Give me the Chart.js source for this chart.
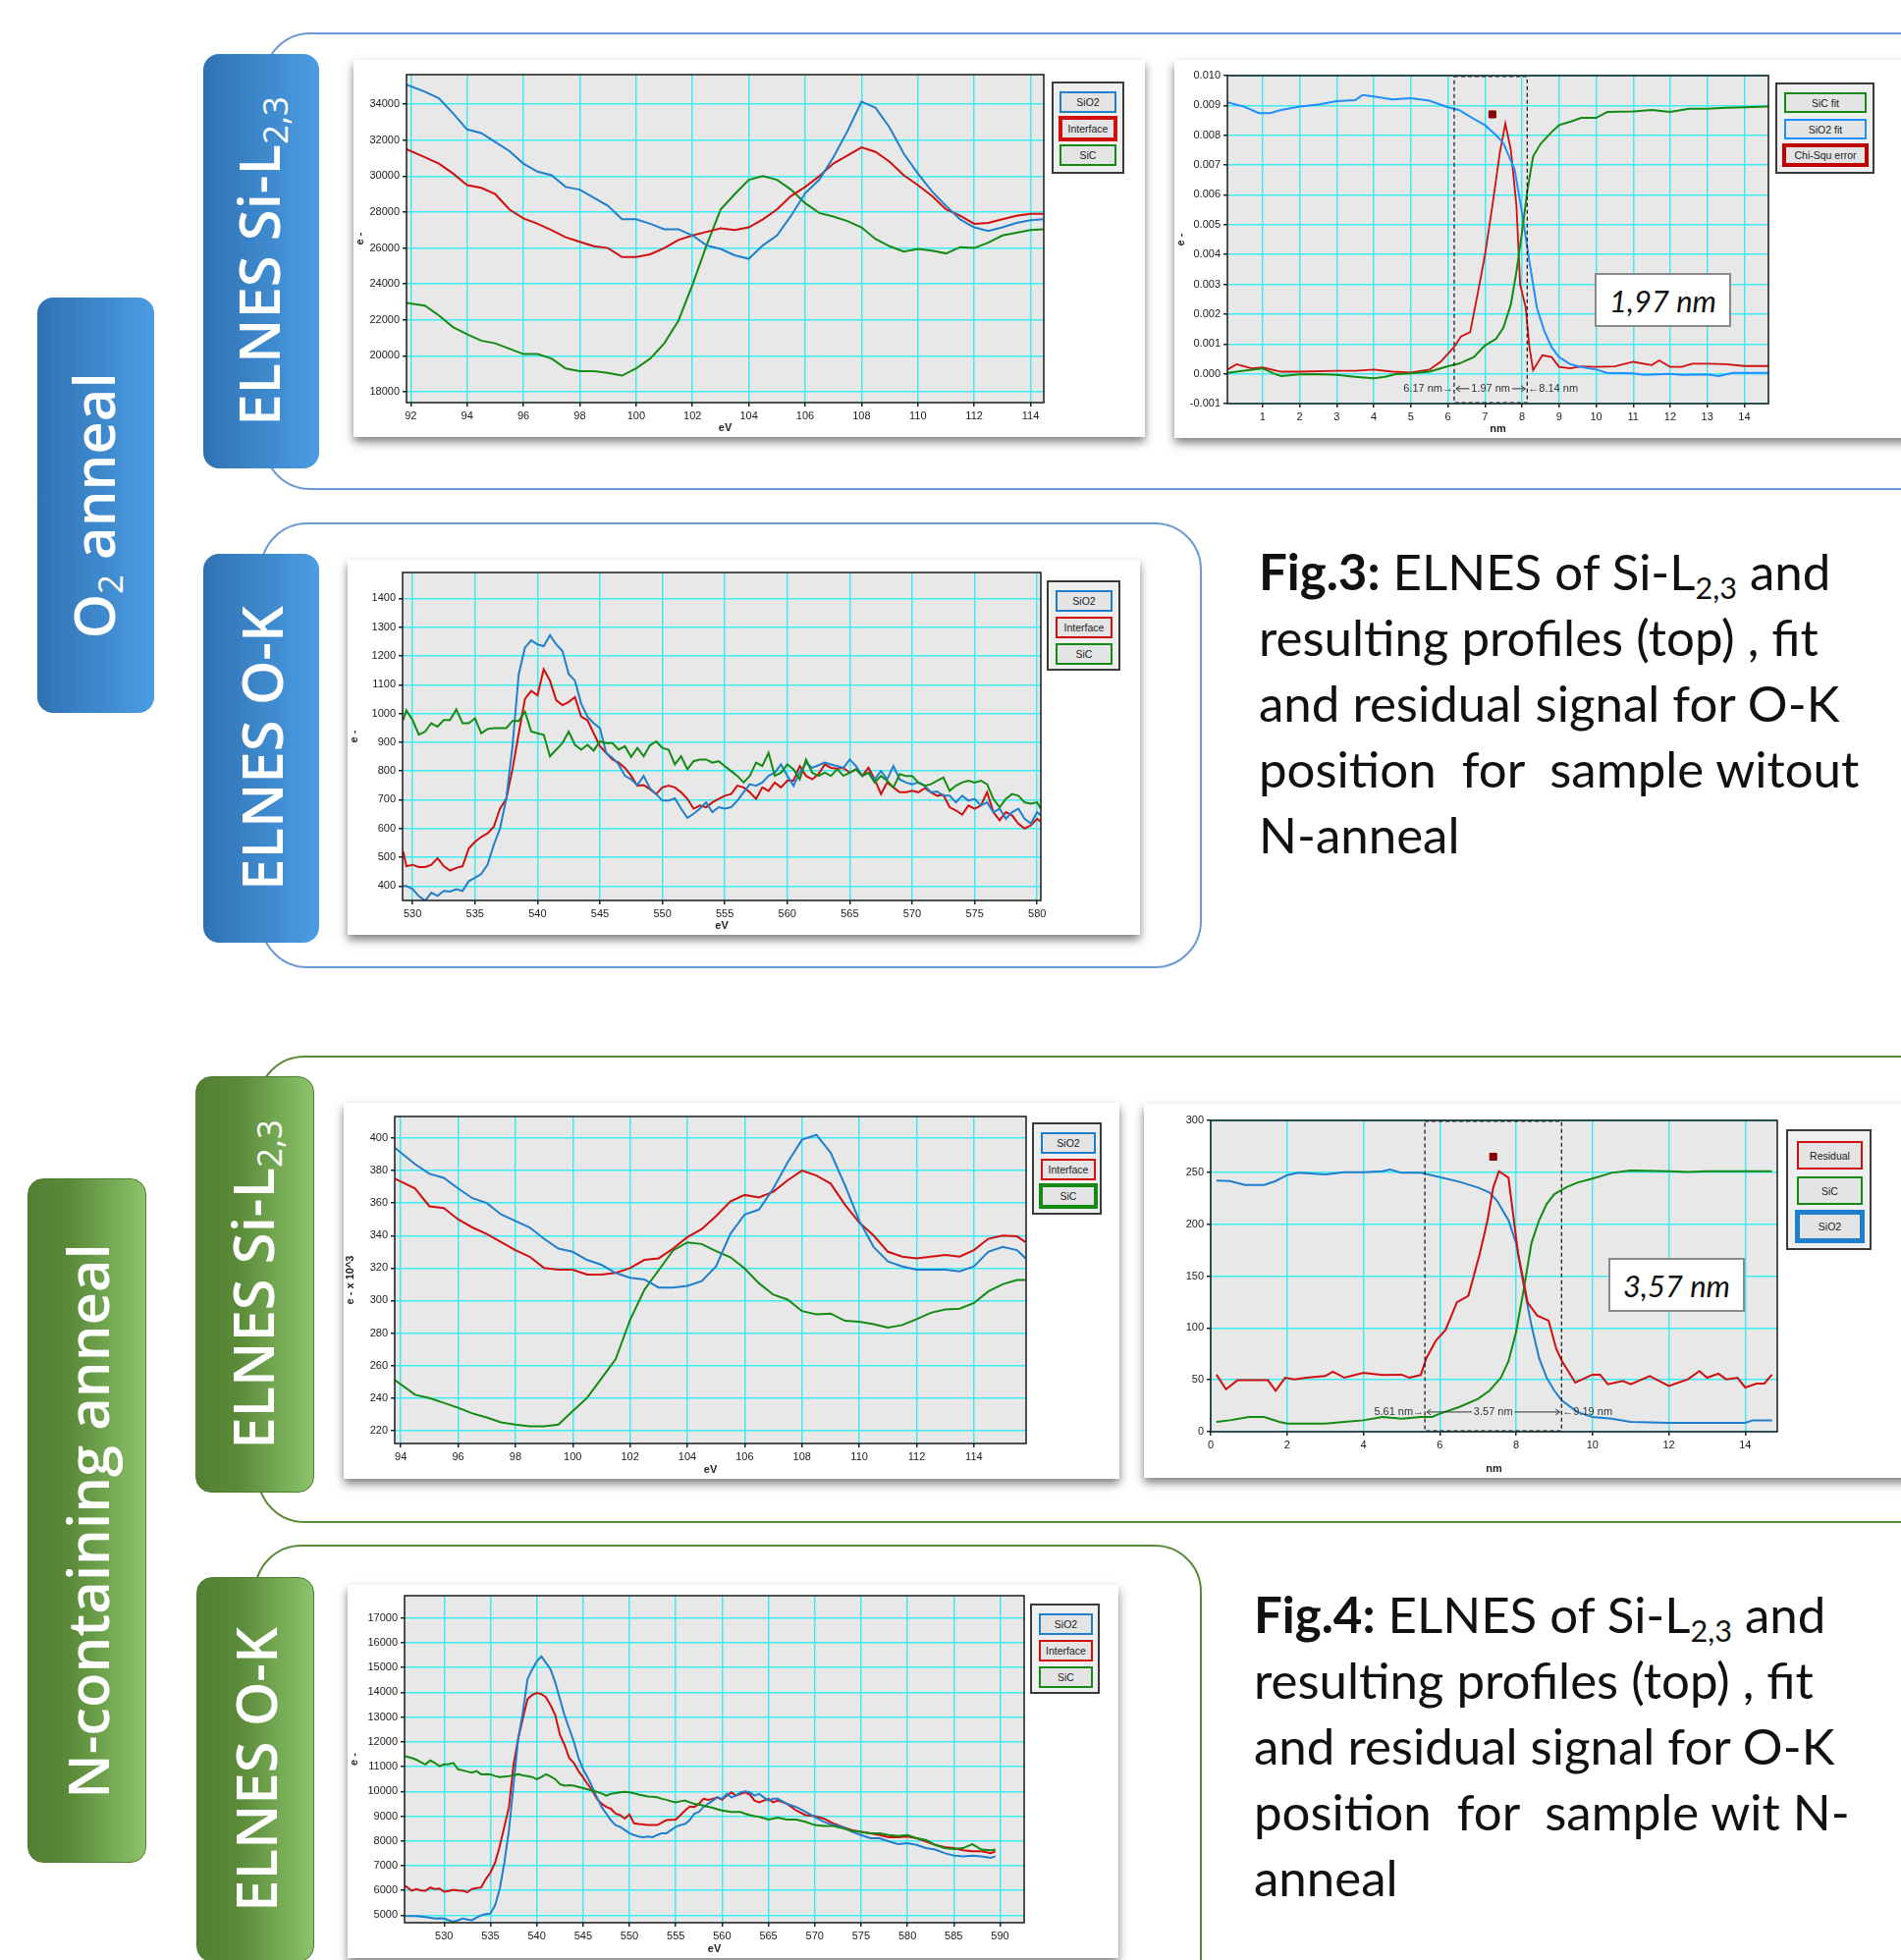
<!DOCTYPE html>
<html>
<head>
<meta charset="utf-8">
<title>ELNES Si-L2,3 / O-K</title>
<script src="https://cdn.jsdelivr.net/npm/chart.js"></script>
<style>
    body { margin: 0; width: 1936px; height: 1996px; position: relative; background: #fff; overflow: hidden; font-family: 'Open Sans', sans-serif; }
    .frame { position: absolute; border: 2px solid; border-radius: 48px; box-sizing: border-box; }
    .tab { position: absolute; border-radius: 16px; color: #fff; overflow: hidden; box-sizing: border-box; }
    .blue { background: linear-gradient(to right, #2f72b3, #4b9ce3); }
    .green { background: linear-gradient(to right, #537f33 0%, #5a8a38 35%, #8cc36b 100%); border: 1.5px solid #4f7d2f; }
    .vlabel { position: absolute; left: 50%; top: 50%; transform: translate(-50%, -50%) rotate(-90deg); white-space: nowrap; font-weight: 600; font-size: 58px; line-height: 1; }
    .vlabel sub { font-size: 0.6em; font-weight: 400; vertical-align: -0.25em; }
    .card { position: absolute; background: #fff; box-shadow: 0 5px 9px rgba(0,0,0,0.5); }
    .card canvas { position: absolute; left: 0; top: 0; }
    .legend { position: absolute; background: #efefef; border: 2px solid #3a3a3a; box-sizing: border-box; }
    .item { position: absolute; background: #e4e4e4; box-sizing: border-box; font: 10.5px 'Liberation Sans', Arial, sans-serif; color: #222; display: flex; align-items: center; justify-content: center; }
    .valbox { position: absolute; background: #fff; border: 2px solid #8a8a8a; box-sizing: border-box; display: flex; align-items: center; justify-content: center; font: italic 31px Lato, sans-serif; color: #111; }
    .caption { position: absolute; font-family: Lato, sans-serif; font-size: 51px; line-height: 67px; color: #111; white-space: nowrap; }
    .caption sub { font-size: 0.6em; vertical-align: -0.3em; line-height: 0; }
</style>
</head>
<body>

<div class="frame" style="left:268px; top:33px; width:1800px; height:466px; border-color:#6a9ad6;"></div>
<div class="frame" style="left:265px; top:532px; width:959px; height:454px; border-color:#6a9ad6;"></div>
<div class="frame" style="left:262px; top:1075px; width:1800px; height:476px; border-color:#5b8b3a;"></div>
<div class="frame" style="left:259px; top:1573px; width:965px; height:600px; border-color:#5b8b3a;"></div>

<div class="tab blue" style="left:38px; top:303px; width:119px; height:423px;"><div class="vlabel">O<sub>2</sub> anneal</div></div>
<div class="tab blue" style="left:207px; top:55px; width:118px; height:422px;"><div class="vlabel">ELNES Si-L<sub>2,3</sub></div></div>
<div class="tab blue" style="left:207px; top:564px; width:118px; height:396px;"><div class="vlabel">ELNES O-K</div></div>
<div class="tab green" style="left:28px; top:1200px; width:121px; height:697px;"><div class="vlabel">N-containing anneal</div></div>
<div class="tab green" style="left:199px; top:1096px; width:121px; height:424px;"><div class="vlabel">ELNES Si-L<sub>2,3</sub></div></div>
<div class="tab green" style="left:200px; top:1606px; width:120px; height:392px;"><div class="vlabel">ELNES O-K</div></div>

<div class="card" style="left:360px; top:61px; width:806px; height:384px;"><canvas id="c1"></canvas></div>
<div class="card" style="left:1196px; top:61px; width:760px; height:385px;"><canvas id="c2"></canvas></div>
<div class="card" style="left:354px; top:570px; width:807px; height:382px;"><canvas id="c3"></canvas></div>
<div class="card" style="left:350px; top:1123px; width:790px; height:383px;"><canvas id="c4"></canvas></div>
<div class="card" style="left:1165px; top:1124px; width:791px; height:381px;"><canvas id="c5"></canvas></div>
<div class="card" style="left:354px; top:1614px; width:785px; height:380px;"><canvas id="c6"></canvas></div>

<div class="valbox" style="left:1624px; top:278px; width:139px; height:55px;">1,97 nm</div>
<div class="valbox" style="left:1638px; top:1281px; width:139px; height:55px;">3,57 nm</div>

<div class="caption" style="left:1282px; top:548px;"><b>Fig.3:</b> ELNES of Si-L<sub>2,3</sub> and<br>resulting profiles (top) , fit<br>and residual signal for O-K<br>position&nbsp; for&nbsp; sample witout<br>N-anneal</div>
<div class="caption" style="left:1277px; top:1610px;"><b>Fig.4:</b> ELNES of Si-L<sub>2,3</sub> and<br>resulting profiles (top) , fit<br>and residual signal for O-K<br>position&nbsp; for&nbsp; sample wit N-<br>anneal</div>

<script>
// ---- Fig.3 top left: Si-L2,3 ELNES, O2 anneal
const siL1Energy = [91.85, 92.5, 93, 93.5, 94, 94.5, 95, 95.5, 96, 96.5, 97, 97.5, 98, 98.5, 99, 99.5, 100, 100.5, 101, 101.5, 102, 102.5, 103, 103.5, 104, 104.5, 105, 105.5, 106, 106.5, 107, 107.5, 108, 108.5, 109, 109.5, 110, 110.5, 111, 111.5, 112, 112.5, 113, 113.5, 114, 114.45];
const siL1SiO2 = [35100, 34700, 34340, 33500, 32600, 32400, 31900, 31400, 30700, 30250, 30050, 29400, 29250, 28800, 28350, 27600, 27600, 27350, 27050, 27050, 26700, 26150, 25950, 25600, 25400, 26150, 26700, 27800, 29050, 29800, 31050, 32500, 34150, 33800, 32700, 31250, 30150, 29150, 28350, 27600, 27150, 26950, 27150, 27400, 27550, 27600];
const siL1Interface = [31500, 31050, 30700, 30150, 29500, 29350, 29000, 28150, 27650, 27350, 27000, 26600, 26350, 26100, 26000, 25500, 25500, 25650, 26000, 26450, 26700, 26900, 27100, 27000, 27150, 27600, 28150, 28900, 29400, 30000, 30700, 31150, 31600, 31350, 30800, 30050, 29500, 28900, 28150, 27800, 27350, 27400, 27600, 27800, 27900, 27900];
const siL1SiC = [22950, 22800, 22250, 21600, 21200, 20850, 20700, 20400, 20100, 20100, 19850, 19300, 19150, 19150, 19050, 18900, 19300, 19850, 20700, 21950, 23950, 26150, 28150, 29000, 29800, 30000, 29800, 29250, 28500, 27950, 27750, 27500, 27150, 26500, 26100, 25800, 25950, 25850, 25700, 26050, 26000, 26300, 26700, 26850, 27000, 27050];

// ---- Fig.3 top right: profiles (nm)
const prof1SiO2X = [0.05, 0.5, 0.9, 1.2, 1.5, 2, 2.5, 3, 3.5, 3.7, 4, 4.5, 5, 5.5, 6, 6.3, 6.7, 7, 7.3, 7.5, 7.8, 8, 8.2, 8.4, 8.6, 8.8, 9, 9.3, 9.6, 10, 10.3, 11, 11.3, 12, 12.3, 13, 13.3, 13.7, 14, 14.65];
const prof1SiO2Y = [0.0091, 0.00896, 0.00874, 0.00874, 0.00885, 0.00896, 0.00903, 0.00914, 0.00918, 0.00935, 0.0093, 0.0092, 0.00924, 0.00916, 0.00894, 0.00885, 0.00855, 0.00834, 0.008, 0.00773, 0.00685, 0.0054, 0.00376, 0.00222, 0.00144, 0.00089, 0.00056, 0.00032, 0.00023, 0.00014, 0.00003, 0.00001, -0.00004, 0, -0.00004, -0.00002, -0.00008, 0.00003, 0.00003, 0.00003];
const prof1SiCX = [0.05, 0.5, 1, 1.3, 1.5, 2, 2.5, 3, 3.5, 4, 4.3, 4.6, 5, 5.5, 6, 6.3, 6.7, 7, 7.3, 7.5, 7.7, 7.85, 8, 8.15, 8.3, 8.5, 8.8, 9, 9.3, 9.6, 10, 10.3, 11, 11.5, 12, 12.5, 13, 13.5, 14, 14.65];
const prof1SiCY = [0.00003, 0.0001, 0.00018, 0.00001, -0.00008, -0.00002, -0.00001, -0.00004, -0.0001, -0.00015, -0.0001, -0.00001, 0.00001, 0.00007, 0.00025, 0.00034, 0.00056, 0.00095, 0.00117, 0.00155, 0.00233, 0.00343, 0.00475, 0.00619, 0.00729, 0.00771, 0.00811, 0.00834, 0.00845, 0.00858, 0.00858, 0.00878, 0.0088, 0.00885, 0.00878, 0.00889, 0.00889, 0.00892, 0.00894, 0.00896];
const prof1ChiX = [0.05, 0.3, 0.7, 1, 1.5, 2, 3, 3.5, 4, 4.5, 5, 5.5, 5.8, 6, 6.2, 6.35, 6.6, 6.8, 7, 7.2, 7.4, 7.55, 7.7, 7.85, 7.95, 8.1, 8.2, 8.3, 8.55, 8.8, 9, 9.3, 9.6, 10, 10.5, 11, 11.5, 11.7, 12, 12.3, 12.6, 13, 13.5, 14, 14.65];
const prof1ChiY = [0.00014, 0.00032, 0.00018, 0.00021, 0.00007, 0.00007, 0.0001, 0.0001, 0.00014, 0.00007, 0.00004, 0.00014, 0.0004, 0.00067, 0.00095, 0.00125, 0.00139, 0.00266, 0.00398, 0.00563, 0.0074, 0.00839, 0.0075, 0.00563, 0.00299, 0.00222, 0.00089, 0.00012, 0.00062, 0.00056, 0.00023, 0.00018, 0.00025, 0.00023, 0.00025, 0.0004, 0.00029, 0.00045, 0.00023, 0.00023, 0.00034, 0.00034, 0.00032, 0.00026, 0.00026];
const prof1Interval = [6.17, 8.14, 1.97];   // start, end, width (nm)
const prof1Marker = [7.2, 0.0087];

// ---- Fig.3 O-K ELNES
const ok1Energy = [529.25, 529.5, 530, 530.5, 531, 531.5, 532, 532.5, 533, 533.5, 534, 534.5, 535, 535.5, 536, 536.5, 537, 537.5, 538, 538.5, 539, 539.5, 540, 540.5, 541, 541.5, 542, 542.5, 543, 543.5, 544, 544.5, 545, 545.5, 546, 546.5, 547, 547.5, 548, 548.5, 549, 549.5, 550, 550.5, 551, 551.5, 552, 552.5, 553, 553.5, 554, 554.5, 555, 555.5, 556, 556.5, 557, 557.5, 558, 558.5, 559, 559.5, 560, 560.5, 561, 561.5, 562, 562.5, 563, 563.5, 564, 564.5, 565, 565.5, 566, 566.5, 567, 567.5, 568, 568.5, 569, 569.5, 570, 570.5, 571, 571.5, 572, 572.5, 573, 573.5, 574, 574.5, 575, 575.5, 576, 576.5, 577, 577.5, 578, 578.5, 579, 579.5, 580, 580.3];
const ok1SiO2 = [400, 400, 390, 365, 349, 377, 366, 383, 381, 389, 383, 417, 429, 442, 474, 543, 600, 703, 886, 1137, 1229, 1254, 1240, 1234, 1272, 1240, 1217, 1137, 1114, 1034, 989, 966, 949, 863, 846, 823, 783, 771, 751, 783, 740, 720, 697, 697, 705, 669, 637, 651, 669, 691, 657, 674, 669, 674, 697, 726, 754, 749, 760, 783, 794, 823, 783, 749, 794, 829, 811, 820, 829, 823, 817, 811, 840, 817, 783, 794, 771, 800, 771, 817, 771, 760, 754, 760, 749, 726, 729, 714, 714, 691, 714, 697, 703, 680, 691, 657, 669, 634, 657, 669, 634, 617, 657, 646];
const ok1Interface = [520, 469, 474, 466, 466, 474, 497, 469, 454, 463, 469, 531, 554, 571, 583, 606, 669, 703, 806, 931, 1051, 1078, 1063, 1154, 1114, 1046, 1029, 1040, 1057, 989, 977, 931, 886, 863, 840, 829, 811, 783, 749, 751, 737, 720, 743, 749, 743, 726, 703, 669, 680, 674, 691, 703, 714, 720, 749, 743, 726, 703, 743, 731, 760, 743, 766, 766, 817, 783, 771, 789, 823, 811, 808, 811, 794, 806, 783, 811, 771, 720, 760, 743, 726, 726, 731, 726, 740, 726, 714, 717, 674, 663, 648, 680, 669, 680, 726, 657, 629, 657, 646, 617, 600, 611, 634, 623];
const ok1SiC = [977, 1011, 977, 926, 937, 966, 954, 977, 977, 1014, 966, 966, 983, 931, 946, 949, 949, 949, 974, 974, 1006, 937, 931, 926, 851, 874, 897, 937, 891, 874, 891, 871, 903, 897, 897, 874, 886, 849, 880, 851, 889, 903, 880, 874, 823, 851, 806, 834, 840, 840, 829, 834, 817, 800, 783, 760, 783, 829, 817, 863, 783, 794, 823, 806, 771, 840, 794, 783, 794, 783, 806, 783, 794, 806, 783, 794, 760, 783, 766, 743, 789, 783, 783, 760, 749, 754, 766, 777, 731, 749, 760, 766, 760, 766, 754, 703, 674, 703, 720, 714, 691, 686, 691, 669];

// ---- Fig.4 Si-L2,3 ELNES (e- x 10^3)
const siL2Energy = [93.8, 94.5, 95, 95.5, 96, 96.5, 97, 97.5, 98, 98.5, 99, 99.5, 100, 100.5, 101, 101.5, 102, 102.5, 103, 103.5, 104, 104.5, 105, 105.5, 106, 106.5, 107, 107.5, 108, 108.5, 109, 109.5, 110, 110.5, 111, 111.5, 112, 112.5, 113, 113.5, 114, 114.5, 115, 115.5, 115.8];
const siL2SiO2 = [394, 384, 378, 375.5, 369, 363, 360, 353, 349, 345, 338, 332, 330, 325, 322, 317, 314, 313, 308, 308, 309, 312, 321, 341, 353, 356, 369, 385, 399, 402, 391, 371, 349, 333, 324, 321, 319, 319, 319, 318, 321, 330, 333, 331, 326];
const siL2Interface = [375, 369, 358, 357, 350, 345, 341, 336, 331, 327, 320, 319, 319, 316, 316, 317, 320, 325, 326, 332, 339, 344, 352, 361, 365, 363.5, 367, 374, 380, 377, 372, 359, 348, 340, 330, 327, 326, 327, 328, 327, 331, 338, 340, 339.5, 336];
const siL2SiC = [251, 242, 240, 237, 234, 230.5, 228, 225, 223.6, 222.6, 222.6, 223.6, 232, 240, 252, 264, 288, 306.6, 318.7, 330.8, 335.8, 334.8, 330.4, 326.7, 319.7, 310.6, 303.6, 300.6, 293.5, 291.5, 292, 287.5, 287, 285.5, 283.4, 284.9, 288.5, 292.5, 294.5, 295, 298.5, 305.6, 310, 312.6, 312.6];

// ---- Fig.4 profiles (nm)
const prof2ResX = [0.15, 0.4, 0.7, 1, 1.5, 1.7, 1.95, 2.2, 2.5, 3, 3.2, 3.5, 4, 4.5, 5, 5.2, 5.5, 5.65, 5.9, 6.15, 6.45, 6.75, 7.05, 7.25, 7.4, 7.55, 7.8, 8.05, 8.3, 8.55, 8.85, 9.05, 9.2, 9.55, 10, 10.2, 10.4, 10.8, 11, 11.5, 12, 12.5, 12.8, 13, 13.3, 13.5, 13.8, 14, 14.3, 14.5, 14.7];
const prof2ResY = [55, 41, 49.6, 49.6, 49.6, 39.5, 52, 50.5, 52, 53.7, 57.8, 52, 56.8, 54.6, 55, 52, 54.6, 71, 88, 98, 124.7, 131, 172, 203.7, 235.3, 251, 244.7, 172, 124.7, 112, 107, 80, 68, 47.4, 55, 55, 45.8, 49, 45.8, 53.7, 44, 50.5, 58.4, 52, 56, 50.5, 52, 42.6, 46.4, 46.4, 55];
const prof2SiCX = [0.15, 0.5, 1, 1.4, 1.8, 2, 3, 3.5, 4, 4.5, 5, 5.5, 5.8, 6, 6.5, 7, 7.3, 7.6, 7.8, 8, 8.2, 8.4, 8.6, 8.8, 9, 9.3, 9.6, 10, 10.5, 11, 12, 12.5, 13, 13.5, 14, 14.7];
const prof2SiCY = [9.5, 11, 14.2, 14.2, 9.5, 7.9, 7.9, 9.5, 11, 14.2, 12.6, 14.2, 14.2, 17.4, 23.7, 31.6, 39.5, 52, 68, 96.3, 137.4, 181.6, 203.7, 219.5, 229, 235.3, 240, 244, 249.5, 251.7, 251, 250.4, 251, 251, 251, 251];
const prof2SiO2X = [0.15, 0.5, 0.9, 1.4, 1.7, 2, 2.3, 3, 3.5, 4, 4.5, 4.7, 5, 5.5, 6, 6.5, 7, 7.3, 7.5, 7.8, 8, 8.2, 8.4, 8.6, 8.8, 9, 9.2, 9.6, 10, 10.5, 11, 12, 13, 14, 14.2, 14.7];
const prof2SiO2Y = [242, 241.6, 237.8, 237.8, 241.6, 247.3, 249.5, 248, 250, 250, 251, 252.6, 249.5, 249.5, 245.4, 241, 235.3, 230.5, 222.6, 203.7, 181.6, 140.5, 102.6, 71, 52, 39.5, 30, 19, 14.2, 12.6, 9.5, 8.5, 8.5, 8.5, 11, 11];
const prof2Interval = [5.61, 9.19, 3.57];
const prof2Marker = [7.4, 265];

// ---- Fig.4 O-K ELNES
const ok2Energy = [525.8, 526.5, 527, 527.5, 528, 528.5, 529, 529.5, 530, 530.5, 531, 531.5, 532, 532.5, 533, 533.5, 534, 534.5, 535, 535.5, 536, 536.5, 537, 537.5, 538, 538.5, 539, 539.5, 540, 540.5, 541, 541.5, 542, 542.5, 543, 543.5, 544, 544.5, 545, 545.5, 546, 546.5, 547, 547.5, 548, 548.5, 549, 549.5, 550, 550.5, 551, 551.5, 552, 552.5, 553, 553.5, 554, 554.5, 555, 555.5, 556, 556.5, 557, 557.5, 558, 558.5, 559, 559.5, 560, 560.5, 561, 561.5, 562, 562.5, 563, 563.5, 564, 564.5, 565, 565.5, 566, 567, 568, 569, 570, 571, 572, 573, 574, 575, 576, 577, 578, 579, 580, 581, 582, 583, 584, 585, 586, 587, 588, 589, 589.5];
const ok2SiO2 = [4970, 4970, 4970, 4950, 4930, 4900, 4870, 4880, 4870, 4800, 4740, 4800, 4870, 4830, 4800, 4900, 5000, 5050, 5070, 5400, 6060, 7120, 8440, 10290, 12140, 13200, 14530, 14920, 15250, 15450, 15190, 14920, 14390, 13730, 13070, 12540, 12010, 11350, 10890, 10560, 10160, 9760, 9370, 9100, 8840, 8640, 8570, 8440, 8310, 8240, 8180, 8150, 8180, 8150, 8240, 8310, 8310, 8440, 8570, 8640, 8680, 8840, 9100, 9170, 9370, 9500, 9630, 9760, 9700, 9900, 9760, 9830, 9960, 10000, 9960, 9830, 9900, 9760, 9630, 9700, 9700, 9500, 9370, 9170, 8970, 8770, 8640, 8570, 8370, 8240, 8110, 8110, 7980, 7870, 7910, 7840, 7710, 7650, 7510, 7410, 7380, 7410, 7380, 7320, 7380];
const ok2Interface = [6190, 5990, 6060, 6000, 5990, 6120, 6060, 6080, 5950, 5980, 6030, 6000, 5990, 5930, 6060, 6100, 6120, 6460, 6720, 7120, 7780, 8570, 9370, 11090, 12140, 12940, 13730, 13890, 13970, 13930, 13800, 13470, 13070, 12280, 11880, 11350, 11150, 10820, 10560, 10290, 10030, 9700, 9500, 9370, 9300, 9100, 9040, 8900, 9070, 8710, 8680, 8660, 8640, 8640, 8640, 8740, 8840, 8850, 8860, 9040, 9230, 9390, 9370, 9500, 9700, 9660, 9700, 9760, 9660, 9830, 9960, 9830, 9900, 9960, 9870, 9630, 9560, 9630, 9700, 9560, 9630, 9500, 9230, 9040, 9000, 8900, 8710, 8570, 8440, 8370, 8310, 8240, 8150, 8150, 8180, 8110, 7980, 7840, 7750, 7710, 7620, 7580, 7580, 7510, 7580];
const ok2SiC = [11420, 11350, 11280, 11180, 11090, 11250, 11150, 11020, 11090, 11100, 11150, 10890, 10850, 10800, 10760, 10820, 10690, 10700, 10690, 10620, 10580, 10600, 10620, 10660, 10690, 10650, 10620, 10580, 10490, 10580, 10690, 10600, 10490, 10290, 10230, 10250, 10230, 10180, 10130, 10080, 10030, 9980, 9920, 9830, 9900, 9930, 9960, 9980, 9960, 9920, 9870, 9830, 9790, 9780, 9760, 9700, 9660, 9600, 9560, 9600, 9630, 9560, 9500, 9470, 9430, 9380, 9340, 9280, 9230, 9200, 9170, 9170, 9170, 9100, 9040, 9000, 8970, 8920, 8860, 8900, 8940, 8860, 8860, 8770, 8640, 8600, 8600, 8510, 8410, 8370, 8310, 8310, 8240, 8200, 8240, 8110, 8040, 7840, 7710, 7670, 7710, 7870, 7650, 7620, 7650];

const elnesNames = ['SiO2', 'Interface', 'SiC'];
const prof1Names = ['SiC fit', 'SiO2 fit', 'Chi-Squ error'];
const prof2Names = ['Residual', 'SiC', 'SiO2'];

const BLUE = '#1f7fcc', BRIGHT_BLUE = '#1e8fff', RED = '#d10f0f', GREEN = '#138a13', MARK = '#8b0000';
const GRID = '#3cecf0';
Chart.defaults.font.family = "'Liberation Sans', Arial, sans-serif";

function pairs(xs, ys) { return xs.map((x, i) => ({ x: x, y: ys[i] })); }
function line(label, xs, ys, color, width) {
    return { label: label, data: pairs(xs, ys), borderColor: color, borderWidth: width || 2, pointRadius: 0, tension: 0, fill: false };
}
function marker(m) {
    return { label: 'marker', data: [{ x: m[0], y: m[1] }], showLine: false, pointStyle: 'rect', pointRadius: 5, backgroundColor: MARK, borderColor: MARK };
}

const plotFrame = {
    id: 'plotFrame',
    beforeDraw(chart) {
        const a = chart.chartArea, ctx = chart.ctx;
        ctx.save();
        ctx.fillStyle = '#e8e8e8';
        ctx.fillRect(a.left, a.top, a.width, a.height);
        ctx.restore();
    },
    afterDraw(chart) {
        const a = chart.chartArea, ctx = chart.ctx;
        ctx.save();
        ctx.strokeStyle = '#1a1a1a';
        ctx.lineWidth = 1.5;
        ctx.strokeRect(a.left, a.top, a.width, a.height);
        ctx.restore();
    }
};

// dashed interface window with its width annotation
const intervalBox = {
    id: 'intervalBox',
    afterDatasetsDraw(chart, args, opts) {
        if (!opts || !opts.range) return;
        const xs = chart.scales.x, ys = chart.scales.y, a = chart.chartArea, ctx = chart.ctx;
        const x1 = xs.getPixelForValue(opts.range[0]), x2 = xs.getPixelForValue(opts.range[1]);
        const yy = ys.getPixelForValue(opts.labelY);
        ctx.save();
        ctx.setLineDash([4, 3]);
        ctx.strokeStyle = '#111';
        ctx.lineWidth = 1.2;
        ctx.strokeRect(x1, a.top + 1, x2 - x1, a.height - 2);
        ctx.setLineDash([]);
        ctx.font = "11px 'Liberation Sans', Arial, sans-serif";
        ctx.fillStyle = '#333';
        ctx.textBaseline = 'middle';
        ctx.textAlign = 'right';
        ctx.fillText(opts.range[0].toFixed(2) + ' nm\u2192', x1 - 1, yy);
        ctx.textAlign = 'left';
        ctx.fillText('\u2190' + opts.range[1].toFixed(2) + ' nm', x2 + 1, yy);
        const txt = opts.range[2].toFixed(2) + ' nm';
        const tw = ctx.measureText(txt).width;
        const mid = (x1 + x2) / 2;
        ctx.textAlign = 'center';
        ctx.fillText(txt, mid, yy);
        ctx.strokeStyle = '#333';
        ctx.lineWidth = 1;
        ctx.beginPath();
        ctx.moveTo(x1 + 2, yy); ctx.lineTo(mid - tw / 2 - 2, yy);
        ctx.moveTo(mid + tw / 2 + 2, yy); ctx.lineTo(x2 - 2, yy);
        ctx.moveTo(x1 + 6, yy - 3); ctx.lineTo(x1 + 2, yy); ctx.lineTo(x1 + 6, yy + 3);
        ctx.moveTo(x2 - 6, yy - 3); ctx.lineTo(x2 - 2, yy); ctx.lineTo(x2 - 6, yy + 3);
        ctx.stroke();
        ctx.restore();
    }
};

// ticks at every multiple of the step inside [min, max]
function stepTicks(min, max, step) {
    return scale => {
        const out = [];
        for (let k = Math.ceil(min / step - 1e-9); k * step <= max + 1e-9; k++) {
            out.push({ value: +(k * step).toFixed(6) });
        }
        scale.ticks = out;
    };
}

function axis(min, max, step, title, fmt, fixed) {
    return {
        type: 'linear', min: min, max: max,
        afterFit: fixed,
        afterBuildTicks: stepTicks(min, max, step),
        border: { display: false },
        grid: { color: GRID, lineWidth: 1.5, tickColor: '#222', tickLength: 4 },
        ticks: { autoSkip: false, maxRotation: 0, color: '#1a1a1a', font: { size: 11 }, padding: 3,
                 callback: fmt || (v => String(v)) },
        title: { display: !!title, text: title, color: '#222', font: { size: 11, weight: 'bold' }, padding: { top: 0, bottom: 2 } }
    };
}

function buildChart(id, card, plot, xAxis, yAxis, datasets, interval) {
    const canvas = document.getElementById(id);
    canvas.width = card.w; canvas.height = card.h;
    const yWidth = plot.l - card.l;
    const xHeight = card.t + card.h - plot.b;
    const xs = axis(xAxis.min, xAxis.max, xAxis.step, xAxis.title, null, s => { s.height = xHeight; });
    const ys = axis(yAxis.min, yAxis.max, yAxis.step, yAxis.title, yAxis.fmt, s => { s.width = yWidth; });
    return new Chart(canvas, {
        type: 'line',
        data: { datasets: datasets },
        options: {
            responsive: false, animation: false, devicePixelRatio: 1,
            layout: { padding: { left: 0, top: plot.t - card.t, right: card.l + card.w - plot.r, bottom: 0 } },
            plugins: { legend: { display: false }, tooltip: { enabled: false }, intervalBox: interval || {} },
            scales: { x: xs, y: ys }
        },
        plugins: [plotFrame, intervalBox]
    });
}

function legend(box, names, colors, items) {
    const el = document.createElement('div');
    el.className = 'legend';
    el.style.cssText = `left:${box.l}px; top:${box.t}px; width:${box.w}px; height:${box.h}px;`;
    names.forEach((n, i) => {
        const it = document.createElement('div');
        const s = items[i];
        it.className = 'item';
        it.textContent = n;
        it.style.cssText = `left:${s.l}px; top:${s.t}px; width:${s.w}px; height:${s.h}px; border:${s.b}px solid ${colors[i]};`;
        el.appendChild(it);
    });
    document.body.appendChild(el);
}

// Fig.3 Si-L2,3
buildChart('c1', { l: 360, t: 61, w: 806, h: 384 }, { l: 414, t: 76, r: 1063, b: 410 },
    { min: 91.85, max: 114.47, step: 2, title: 'eV' }, { min: 17400, max: 35650, step: 2000, title: 'e -' },
    [line('SiO2', siL1Energy, siL1SiO2, BLUE), line('Interface', siL1Energy, siL1Interface, RED), line('SiC', siL1Energy, siL1SiC, GREEN)]);
legend({ l: 1071, t: 83, w: 74, h: 94 }, elnesNames, [BLUE, RED, GREEN],
    [{ l: 6, t: 8, w: 58, h: 22, b: 2 }, { l: 5, t: 33, w: 60, h: 26, b: 4 }, { l: 6, t: 62, w: 58, h: 22, b: 2 }]);

// Fig.3 profile
buildChart('c2', { l: 1196, t: 61, w: 760, h: 385 }, { l: 1250, t: 77, r: 1801, b: 411 },
    { min: 0.05, max: 14.65, step: 1, title: 'nm' }, { min: -0.001, max: 0.010, step: 0.001, title: 'e -', fmt: v => v.toFixed(3) },
    [line('SiC fit', prof1SiCX, prof1SiCY, GREEN), line('SiO2 fit', prof1SiO2X, prof1SiO2Y, BRIGHT_BLUE), line('Chi-Squ error', prof1ChiX, prof1ChiY, RED, 1.8), marker(prof1Marker)],
    { range: prof1Interval, labelY: -0.0005 });
legend({ l: 1808, t: 84, w: 101, h: 93 }, prof1Names, [GREEN, BRIGHT_BLUE, '#c00000'],
    [{ l: 7, t: 8, w: 84, h: 21, b: 2 }, { l: 7, t: 35, w: 84, h: 21, b: 2 }, { l: 5, t: 60, w: 88, h: 24, b: 4 }]);

// Fig.3 O-K
buildChart('c3', { l: 354, t: 570, w: 807, h: 382 }, { l: 410, t: 583, r: 1060, b: 917 },
    { min: 529.2, max: 580.3, step: 5, title: 'eV' }, { min: 350, max: 1490, step: 100, title: 'e -' },
    [line('SiC', ok1Energy, ok1SiC, GREEN), line('SiO2', ok1Energy, ok1SiO2, BLUE), line('Interface', ok1Energy, ok1Interface, RED)]);
legend({ l: 1066, t: 591, w: 75, h: 92 }, elnesNames, [BLUE, RED, GREEN],
    [{ l: 7, t: 8, w: 58, h: 22, b: 2 }, { l: 7, t: 35, w: 58, h: 22, b: 2 }, { l: 7, t: 62, w: 58, h: 22, b: 2 }]);

// Fig.4 Si-L2,3
buildChart('c4', { l: 350, t: 1123, w: 790, h: 383 }, { l: 402, t: 1137, r: 1045, b: 1470 },
    { min: 93.79, max: 115.82, step: 2, title: 'eV' }, { min: 212, max: 413.3, step: 20, title: 'e - x 10^3' },
    [line('SiO2', siL2Energy, siL2SiO2, BLUE), line('Interface', siL2Energy, siL2Interface, RED), line('SiC', siL2Energy, siL2SiC, GREEN)]);
legend({ l: 1051, t: 1143, w: 71, h: 94 }, elnesNames, [BLUE, RED, GREEN],
    [{ l: 7, t: 8, w: 56, h: 22, b: 2 }, { l: 7, t: 35, w: 56, h: 22, b: 2 }, { l: 5, t: 60, w: 60, h: 26, b: 4 }]);

// Fig.4 profile
buildChart('c5', { l: 1165, t: 1124, w: 791, h: 381 }, { l: 1233, t: 1141, r: 1810, b: 1458 },
    { min: 0, max: 14.84, step: 2, title: 'nm' }, { min: 0, max: 300, step: 50, title: '' },
    [line('Residual', prof2ResX, prof2ResY, RED), line('SiC', prof2SiCX, prof2SiCY, GREEN), line('SiO2', prof2SiO2X, prof2SiO2Y, BLUE), marker(prof2Marker)],
    { range: prof2Interval, labelY: 19 });
legend({ l: 1819, t: 1150, w: 87, h: 123 }, prof2Names, [RED, GREEN, BLUE],
    [{ l: 9, t: 10, w: 67, h: 29, b: 2 }, { l: 9, t: 46, w: 67, h: 29, b: 2 }, { l: 7, t: 80, w: 71, h: 34, b: 5 }]);

// Fig.4 O-K
buildChart('c6', { l: 354, t: 1614, w: 785, h: 380 }, { l: 412, t: 1625, r: 1043, b: 1958 },
    { min: 525.73, max: 592.6, step: 5, title: 'eV' }, { min: 4700, max: 17900, step: 1000, title: 'e -' },
    [line('SiC', ok2Energy, ok2SiC, GREEN), line('SiO2', ok2Energy, ok2SiO2, BLUE), line('Interface', ok2Energy, ok2Interface, RED)]);
legend({ l: 1049, t: 1633, w: 71, h: 92 }, elnesNames, [BLUE, RED, GREEN],
    [{ l: 7, t: 8, w: 55, h: 22, b: 2 }, { l: 7, t: 35, w: 55, h: 22, b: 2 }, { l: 7, t: 62, w: 55, h: 22, b: 2 }]);
</script>
</body>
</html>
